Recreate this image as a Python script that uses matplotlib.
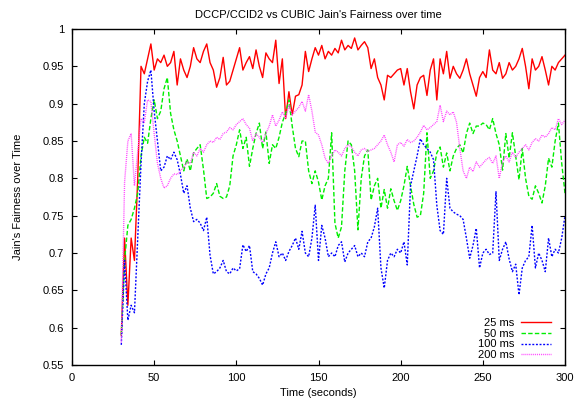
import numpy as np
import matplotlib
matplotlib.use("Agg")
import matplotlib.pyplot as plt

plt.rcParams['font.family'] = ['Liberation Sans', 'DejaVu Sans']

# sample times (seconds)
time = np.arange(30, 301, 2)

# Jain's fairness index per RTT setting
fair_25ms = [
    0.59, 0.72, 0.63, 0.72, 0.69, 0.80, 0.95, 0.94, 0.96, 0.98,
    0.945, 0.96, 0.955, 0.965, 0.95, 0.955, 0.97, 0.925, 0.96, 0.945,
    0.935, 0.95, 0.975, 0.96, 0.955, 0.97, 0.98, 0.955, 0.945, 0.922,
    0.935, 0.962, 0.925, 0.93, 0.945, 0.96, 0.975, 0.945, 0.955, 0.963,
    0.947, 0.972, 0.95, 0.935, 0.968, 0.96, 0.955, 0.985, 0.927, 0.96,
    0.88, 0.916, 0.885, 0.91, 0.912, 0.925, 0.97, 0.943, 0.96, 0.975,
    0.965, 0.978, 0.96, 0.97, 0.965, 0.974, 0.968, 0.985, 0.972, 0.978,
    0.974, 0.988, 0.972, 0.978, 0.983, 0.975, 0.947, 0.96, 0.935, 0.925,
    0.905, 0.938, 0.935, 0.94, 0.945, 0.947, 0.925, 0.947, 0.916, 0.893,
    0.925, 0.935, 0.938, 0.911, 0.945, 0.96, 0.905, 0.96, 0.94, 0.97,
    0.934, 0.95, 0.94, 0.934, 0.945, 0.96, 0.94, 0.925, 0.91, 0.935,
    0.943, 0.935, 0.972, 0.945, 0.94, 0.955, 0.934, 0.94, 0.955, 0.945,
    0.95, 0.96, 0.974, 0.95, 0.92, 0.96, 0.945, 0.95, 0.963, 0.945,
    0.925, 0.95, 0.945, 0.955, 0.96, 0.965,
]
fair_50ms = [
    0.59, 0.69, 0.737, 0.745, 0.76, 0.78, 0.83, 0.855, 0.847, 0.88,
    0.905, 0.88, 0.89, 0.92, 0.935, 0.887, 0.865, 0.85, 0.83, 0.81,
    0.826, 0.81, 0.834, 0.84, 0.845, 0.812, 0.773, 0.775, 0.78, 0.793,
    0.776, 0.773, 0.775, 0.79, 0.83, 0.845, 0.865, 0.84, 0.855, 0.816,
    0.84, 0.86, 0.874, 0.84, 0.862, 0.82, 0.845, 0.84, 0.855, 0.875,
    0.887, 0.905, 0.87, 0.84, 0.829, 0.85, 0.85, 0.81, 0.793, 0.81,
    0.795, 0.771, 0.79, 0.80, 0.861, 0.74, 0.72, 0.735, 0.81, 0.85,
    0.845, 0.81, 0.731, 0.80, 0.83, 0.838, 0.771, 0.79, 0.80, 0.76,
    0.785, 0.76, 0.786, 0.77, 0.757, 0.77, 0.79, 0.816, 0.79, 0.765,
    0.748, 0.75, 0.78, 0.861, 0.80, 0.81, 0.834, 0.842, 0.815, 0.834,
    0.81, 0.83, 0.84, 0.845, 0.834, 0.86, 0.874, 0.86, 0.87, 0.87,
    0.874, 0.872, 0.865, 0.88, 0.86, 0.845, 0.811, 0.86, 0.827, 0.861,
    0.83, 0.798, 0.84, 0.80, 0.776, 0.772, 0.79, 0.78, 0.767, 0.79,
    0.827, 0.815, 0.85, 0.874, 0.82, 0.78,
]
fair_100ms = [
    0.577, 0.69, 0.61, 0.63, 0.62, 0.72, 0.82, 0.90, 0.93, 0.945,
    0.89, 0.85, 0.81, 0.815, 0.83, 0.825, 0.835, 0.825, 0.805, 0.78,
    0.79, 0.76, 0.742, 0.745, 0.74, 0.73, 0.748, 0.697, 0.672, 0.675,
    0.68, 0.69, 0.675, 0.672, 0.68, 0.676, 0.679, 0.711, 0.702, 0.71,
    0.675, 0.672, 0.666, 0.657, 0.672, 0.68, 0.70, 0.715, 0.695, 0.70,
    0.69, 0.702, 0.71, 0.72, 0.705, 0.729, 0.70, 0.695, 0.72, 0.764,
    0.69, 0.737, 0.72, 0.695, 0.70, 0.695, 0.71, 0.715, 0.688, 0.70,
    0.705, 0.71, 0.695, 0.70, 0.695, 0.715, 0.72, 0.735, 0.76, 0.68,
    0.653, 0.69, 0.70, 0.695, 0.705, 0.70, 0.715, 0.684, 0.79, 0.81,
    0.83, 0.853, 0.845, 0.84, 0.835, 0.825, 0.764, 0.73, 0.725, 0.80,
    0.76, 0.755, 0.752, 0.75, 0.745, 0.72, 0.693, 0.71, 0.733, 0.68,
    0.70, 0.705, 0.698, 0.70, 0.782, 0.69, 0.705, 0.715, 0.692, 0.675,
    0.685, 0.644, 0.68, 0.69, 0.695, 0.737, 0.68, 0.70, 0.69, 0.675,
    0.72, 0.695, 0.705, 0.70, 0.72, 0.75,
]
fair_200ms = [
    0.58, 0.795, 0.85, 0.86, 0.79, 0.836, 0.88, 0.875, 0.905, 0.903,
    0.86, 0.82, 0.80, 0.787, 0.79, 0.80, 0.806, 0.805, 0.81, 0.815,
    0.822, 0.82, 0.835, 0.83, 0.84, 0.835, 0.845, 0.85, 0.848, 0.855,
    0.852, 0.86, 0.862, 0.868, 0.865, 0.872, 0.876, 0.88, 0.872, 0.867,
    0.85, 0.86, 0.855, 0.848, 0.86, 0.87, 0.885, 0.87, 0.878, 0.889,
    0.88, 0.898, 0.885, 0.89, 0.895, 0.903, 0.89, 0.912, 0.89, 0.862,
    0.858, 0.845, 0.827, 0.82, 0.83, 0.838, 0.835, 0.83, 0.84, 0.845,
    0.842, 0.835, 0.83, 0.838, 0.84, 0.836, 0.838, 0.84, 0.845, 0.85,
    0.858, 0.845, 0.835, 0.822, 0.845, 0.848, 0.843, 0.852, 0.848, 0.85,
    0.855, 0.862, 0.871, 0.865, 0.868, 0.872, 0.876, 0.898, 0.876, 0.89,
    0.885, 0.889, 0.875, 0.84, 0.81, 0.80, 0.815, 0.809, 0.822, 0.815,
    0.82, 0.825, 0.828, 0.82, 0.83, 0.80, 0.822, 0.83, 0.822, 0.835,
    0.828, 0.835, 0.84, 0.845, 0.838, 0.848, 0.853, 0.85, 0.858, 0.855,
    0.86, 0.868, 0.865, 0.88, 0.872, 0.878,
]

labels = ['25 ms', '50 ms', '100 ms', '200 ms']
x_ticks = [0, 50, 100, 150, 200, 250, 300]
y_ticks = [0.55, 0.6, 0.65, 0.7, 0.75, 0.8, 0.85, 0.9, 0.95, 1]

fig = plt.figure(figsize=(5.85, 3.98), dpi=100)
ax = fig.add_axes([72 / 585, 33 / 398, 493 / 585, 336 / 398])

ax.plot(time, fair_25ms, color='#ff0000', lw=1.0, label=labels[0])
ax.plot(time, fair_50ms, color='#00ee00', lw=1.0, dashes=(3.2, 1.6), label=labels[1])
ax.plot(time, fair_100ms, color='#0000ff', lw=1.0, dashes=(1.4, 1.2), label=labels[2])
ax.plot(time, fair_200ms, color='#ff44ff', lw=1.0, dashes=(0.7, 0.7), label=labels[3])

ax.set_xlim(0, 300)
ax.set_ylim(0.55, 1)
ax.set_xticks(x_ticks)
ax.set_yticks(y_ticks)
ax.set_yticklabels([f'{v:g}' for v in y_ticks])
ax.tick_params(direction='in', top=True, right=True, length=3.6, labelsize=8, pad=5.5)
for s in ax.spines.values():
    s.set_linewidth(1.0)

ax.set_title("DCCP/CCID2 vs CUBIC Jain's Fairness over time", fontsize=8, pad=8)
ax.set_xlabel('Time (seconds)', fontsize=8, labelpad=4)
ax.set_ylabel("Jain's Fairness over Time", fontsize=8, labelpad=14)

ax.legend(loc='lower right', markerfirst=False, frameon=False, fontsize=8,
          handlelength=2.7, labelspacing=0.05, handletextpad=0.6,
          borderaxespad=0.5, bbox_to_anchor=(0.992, -0.015))

fig.savefig('out.png', dpi=100)
